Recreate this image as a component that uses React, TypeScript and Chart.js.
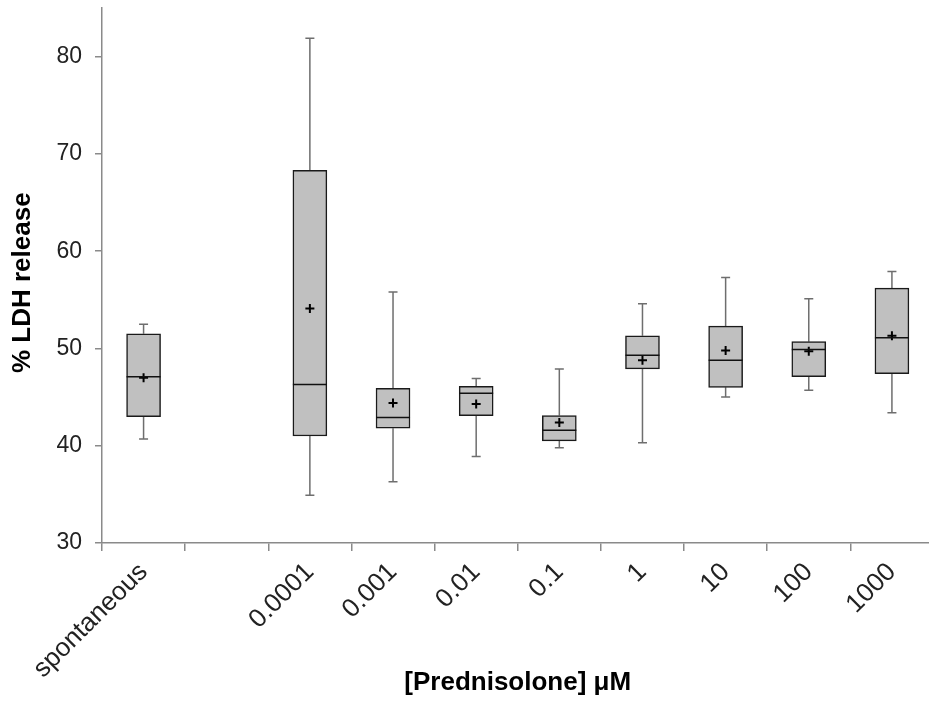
import React, { useEffect, useRef } from "react";
import { Chart, registerables } from "chart.js";

Chart.register(...registerables);

const categories = ["spontaneous", "", "0.0001", "0.001", "0.01", "0.1", "1", "10", "100", "1000"];
const whiskerMin = [40.7, null, 34.9, 36.3, 38.9, 39.8, 40.3, 45.0, 45.7, 43.4];
const q1 = [43.0, null, 41.0, 41.8, 43.1, 40.5, 47.9, 46.0, 47.1, 47.4];
const median = [47.1, null, 46.3, 42.9, 45.4, 41.6, 49.3, 48.8, 49.9, 51.1];
const q3 = [51.5, null, 68.3, 45.9, 46.1, 43.1, 51.3, 52.3, 50.7, 56.2];
const whiskerMax = [52.5, null, 81.9, 55.8, 46.9, 47.9, 54.6, 57.3, 55.1, 57.9];
const means = [47.0, null, 54.1, 44.4, 44.3, 42.4, 48.8, 49.8, 49.7, 51.3];
const yTicks = [30, 40, 50, 60, 70, 80];

const FONT = "'Liberation Sans', Arial, sans-serif";

const boxPlugin = {
  id: "boxExtras",
  beforeDatasetsDraw(chart: any) {
    const { ctx, scales } = chart;
    const xs = scales.x;
    const ys = scales.y;
    ctx.save();
    ctx.strokeStyle = "#6e6e6e";
    ctx.lineWidth = 1.5;
    for (let i = 0; i < categories.length; i++) {
      if (whiskerMin[i] == null) continue;
      const x = xs.getPixelForValue(i);
      const yMin = ys.getPixelForValue(whiskerMin[i] as number);
      const yQ1 = ys.getPixelForValue(q1[i] as number);
      const yQ3 = ys.getPixelForValue(q3[i] as number);
      const yMax = ys.getPixelForValue(whiskerMax[i] as number);
      ctx.beginPath();
      ctx.moveTo(x, yQ3);
      ctx.lineTo(x, yMax);
      ctx.moveTo(x - 4.5, yMax);
      ctx.lineTo(x + 4.5, yMax);
      ctx.moveTo(x, yQ1);
      ctx.lineTo(x, yMin);
      ctx.moveTo(x - 4.5, yMin);
      ctx.lineTo(x + 4.5, yMin);
      ctx.stroke();
    }
    ctx.restore();
  },
  afterDatasetsDraw(chart: any) {
    const { ctx, scales } = chart;
    const xs = scales.x;
    const ys = scales.y;
    const meta = chart.getDatasetMeta(1);
    ctx.save();
    ctx.strokeStyle = "#111";
    ctx.lineWidth = 1.5;
    for (let i = 0; i < categories.length; i++) {
      if (median[i] == null) continue;
      const el = meta.data[i];
      const x = xs.getPixelForValue(i);
      const half = el && el.width ? el.width / 2 : 17;
      const y = ys.getPixelForValue(median[i] as number);
      ctx.beginPath();
      ctx.moveTo(x - half, y);
      ctx.lineTo(x + half, y);
      ctx.stroke();
    }
    ctx.restore();
  },
};

export default function App() {
  const ref = useRef<HTMLCanvasElement | null>(null);

  useEffect(() => {
    if (!ref.current) return;
    const boxes = categories.map((_, i) =>
      q1[i] == null ? null : [q1[i] as number, q3[i] as number]
    );
    const chart = new Chart(ref.current, {
      type: "bar",
      data: {
        labels: categories,
        datasets: [
          {
            type: "line",
            label: "mean",
            data: means as any,
            showLine: false,
            pointStyle: "cross",
            pointRadius: 4.5,
            pointBorderWidth: 2,
            borderColor: "#000",
            backgroundColor: "#000",
          } as any,
          {
            type: "bar",
            label: "box",
            data: boxes as any,
            backgroundColor: "#c0c0c0",
            borderColor: "#1a1a1a",
            borderWidth: 1.5,
            borderSkipped: false,
            barThickness: 34,
          } as any,
        ],
      },
      options: {
        responsive: false,
        animation: false,
        devicePixelRatio: 1,
        layout: { padding: { left: 0, top: 8, right: 6, bottom: 4 } },
        plugins: {
          legend: { display: false },
          tooltip: { enabled: false },
        },
        scales: {
          x: {
            offset: true,
            grid: {
              offset: true,
              drawOnChartArea: false,
              drawTicks: true,
              tickLength: 8,
              color: "#8a8a8a",
              lineWidth: 1.5,
            },
            border: { color: "#8a8a8a", width: 1.5 },
            ticks: {
              maxRotation: 45,
              minRotation: 45,
              autoSkip: false,
              padding: 6,
              color: "#222",
              font: { family: FONT, size: 26 },
            },
            title: {
              display: true,
              text: "[Prednisolone] μM",
              color: "#000",
              font: { family: FONT, size: 26, weight: "bold" },
              padding: { top: 0, bottom: 2 },
            },
            afterFit: (scale: any) => {
              scale.height = 157;
              scale.paddingLeft = 0;
              scale.paddingRight = 0;
            },
          },
          y: {
            min: 30,
            max: 85,
            grid: {
              drawOnChartArea: false,
              drawTicks: true,
              tickLength: 7,
              color: "#8a8a8a",
              lineWidth: 1.5,
            },
            border: { color: "#8a8a8a", width: 1.5 },
            afterBuildTicks: (scale: any) => {
              scale.ticks = yTicks.map((v) => ({ value: v }));
            },
            ticks: {
              padding: 13,
              color: "#222",
              font: { family: FONT, size: 23 },
            },
            title: {
              display: true,
              text: "% LDH release  ",
              color: "#000",
              font: { family: FONT, size: 26, weight: "bold" },
              padding: { top: 7, bottom: 0 },
            },
            afterFit: (scale: any) => {
              scale.width = 102;
              scale.paddingTop = 0;
              scale.paddingBottom = 0;
            },
          },
        },
      },
      plugins: [boxPlugin],
    });
    return () => chart.destroy();
  }, []);

  return (
    <div
      style={{
        position: "fixed",
        left: 0,
        top: 0,
        width: 929,
        height: 704,
        overflow: "hidden",
        background: "#fff",
      }}
    >
      <canvas ref={ref} width={940} height={704} style={{ display: "block" }} />
    </div>
  );
}
